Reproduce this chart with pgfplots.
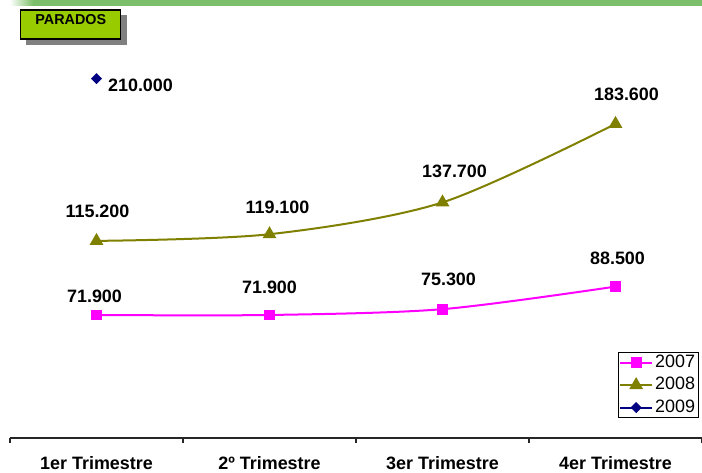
\documentclass[border=0pt]{standalone}
\usepackage{fontspec}
\setmainfont{Liberation Sans}
\usepackage{pgfplots}
\usepackage{pgfplotstable}
\pgfplotsset{compat=1.18}
\definecolor{serA}{HTML}{FF00FF}
\definecolor{serB}{HTML}{808000}
\definecolor{serC}{HTML}{000080}
\definecolor{topbar}{HTML}{7CBF6A}
\definecolor{tag}{HTML}{99CC00}
\definecolor{shadow}{HTML}{808080}

% parados por trimestre
\pgfplotstableread{
x y lab dx dy
0 71900 71.900 -1 9.5
1 71900 71.900 0 14
2 75300 75.300 3 15
3 88500 88.500 1 14
}\paradosA
\pgfplotstableread{
x y lab dx dy
0 115200 115.200 0.5 15
1 119100 119.100 4 13.5
2 137700 137.700 6 15.5
3 183600 183.600 5.5 15
}\paradosB
\pgfplotstableread{
x y lab dx dy
0 210000 210.000 22 -3.5
}\paradosC

\pgfplotsset{
    lbl/.style={
        nodes near coords,
        point meta=explicit symbolic,
        visualization depends on={\thisrow{dx}\as\dx},
        visualization depends on={\thisrow{dy}\as\dy},
        every node near coord/.style={anchor=center, black, font=\fontsize{9}{10}\selectfont\bfseries, xshift=\dx bp, yshift=\dy bp},
    },
}

\begin{document}
\begin{tikzpicture}
\begin{axis}[
    name=ax,
    scale only axis,
    width=346bp, height=219bp,
    xmin=-0.5, xmax=3.5, ymin=0, ymax=256000,
    clip=false,
    axis x line*=bottom,
    axis y line=none,
    axis line style={black!85, line width=0.6bp},
    xtick={0,1,2,3},
    xticklabels={1er Trimestre,2º Trimestre,3er Trimestre,4er Trimestre},
    major tick length=0pt,
    minor xtick={-0.5,0.5,1.5,2.5,3.5},
    minor tick length=2.5bp,
    tick align=outside,
    every tick/.style={black!85, line width=0.6bp},
    xticklabel style={font=\fontsize{9}{10}\selectfont\bfseries, anchor=base, yshift=-15.5bp},
    legend style={at={(0.995,0.046)}, anchor=south east, draw=black, line width=0.5bp,
        font=\fontsize{9}{10}\selectfont, inner xsep=0.5bp, inner ysep=0bp, row sep=1.5bp,
        nodes={inner sep=1bp}},
    legend cell align=left,
    legend image code/.code={\draw[#1, mark=none] plot coordinates {(0bp,0bp) (16bp,0bp)};
        \draw[#1, mark repeat=2, mark phase=2] plot coordinates {(0bp,0bp) (8bp,0bp) (16bp,0bp)};},
]
\addplot[serA, line width=1bp, smooth, mark=square*, mark size=2.2bp, mark options={solid, fill=serA},
    lbl] table[x=x, y=y, meta=lab] {\paradosA};
\addlegendentry{2007}
\addplot[serB, line width=1bp, smooth, mark=triangle*, mark size=3bp, mark options={solid, fill=serB},
    lbl] table[x=x, y=y, meta=lab] {\paradosB};
\addlegendentry{2008}
\addplot[serC, line width=1bp, mark=square*, mark size=1.45bp, mark options={solid, fill=serC, rotate=45},
    lbl] table[x=x, y=y, meta=lab] {\paradosC};
\addlegendentry{2009}
\end{axis}

% franja superior y etiqueta
\shade[left color=white, right color=topbar] (ax.north west) rectangle ([xshift=11.5bp, yshift=-3bp]ax.north west);
\fill[topbar] ([xshift=11.5bp]ax.north west) rectangle ([yshift=-3bp]ax.north east);
\fill[shadow] ([xshift=8bp, yshift=-7.5bp]ax.north west) rectangle ([xshift=58.5bp, yshift=-22.5bp]ax.north west);
\filldraw[fill=tag, draw=black, line width=0.6bp] ([xshift=5.35bp, yshift=-5bp]ax.north west) rectangle ([xshift=55.35bp, yshift=-19.5bp]ax.north west);
\node[font=\fontsize{7.2}{8}\selectfont\bfseries, anchor=center, inner sep=0pt] at ([xshift=30.4bp, yshift=-9.75bp]ax.north west) {PARADOS};

\pgfresetboundingbox
\path[use as bounding box] ([xshift=-5bp, yshift=-17.5bp]ax.south west) rectangle (ax.north east);
\end{tikzpicture}
\end{document}
